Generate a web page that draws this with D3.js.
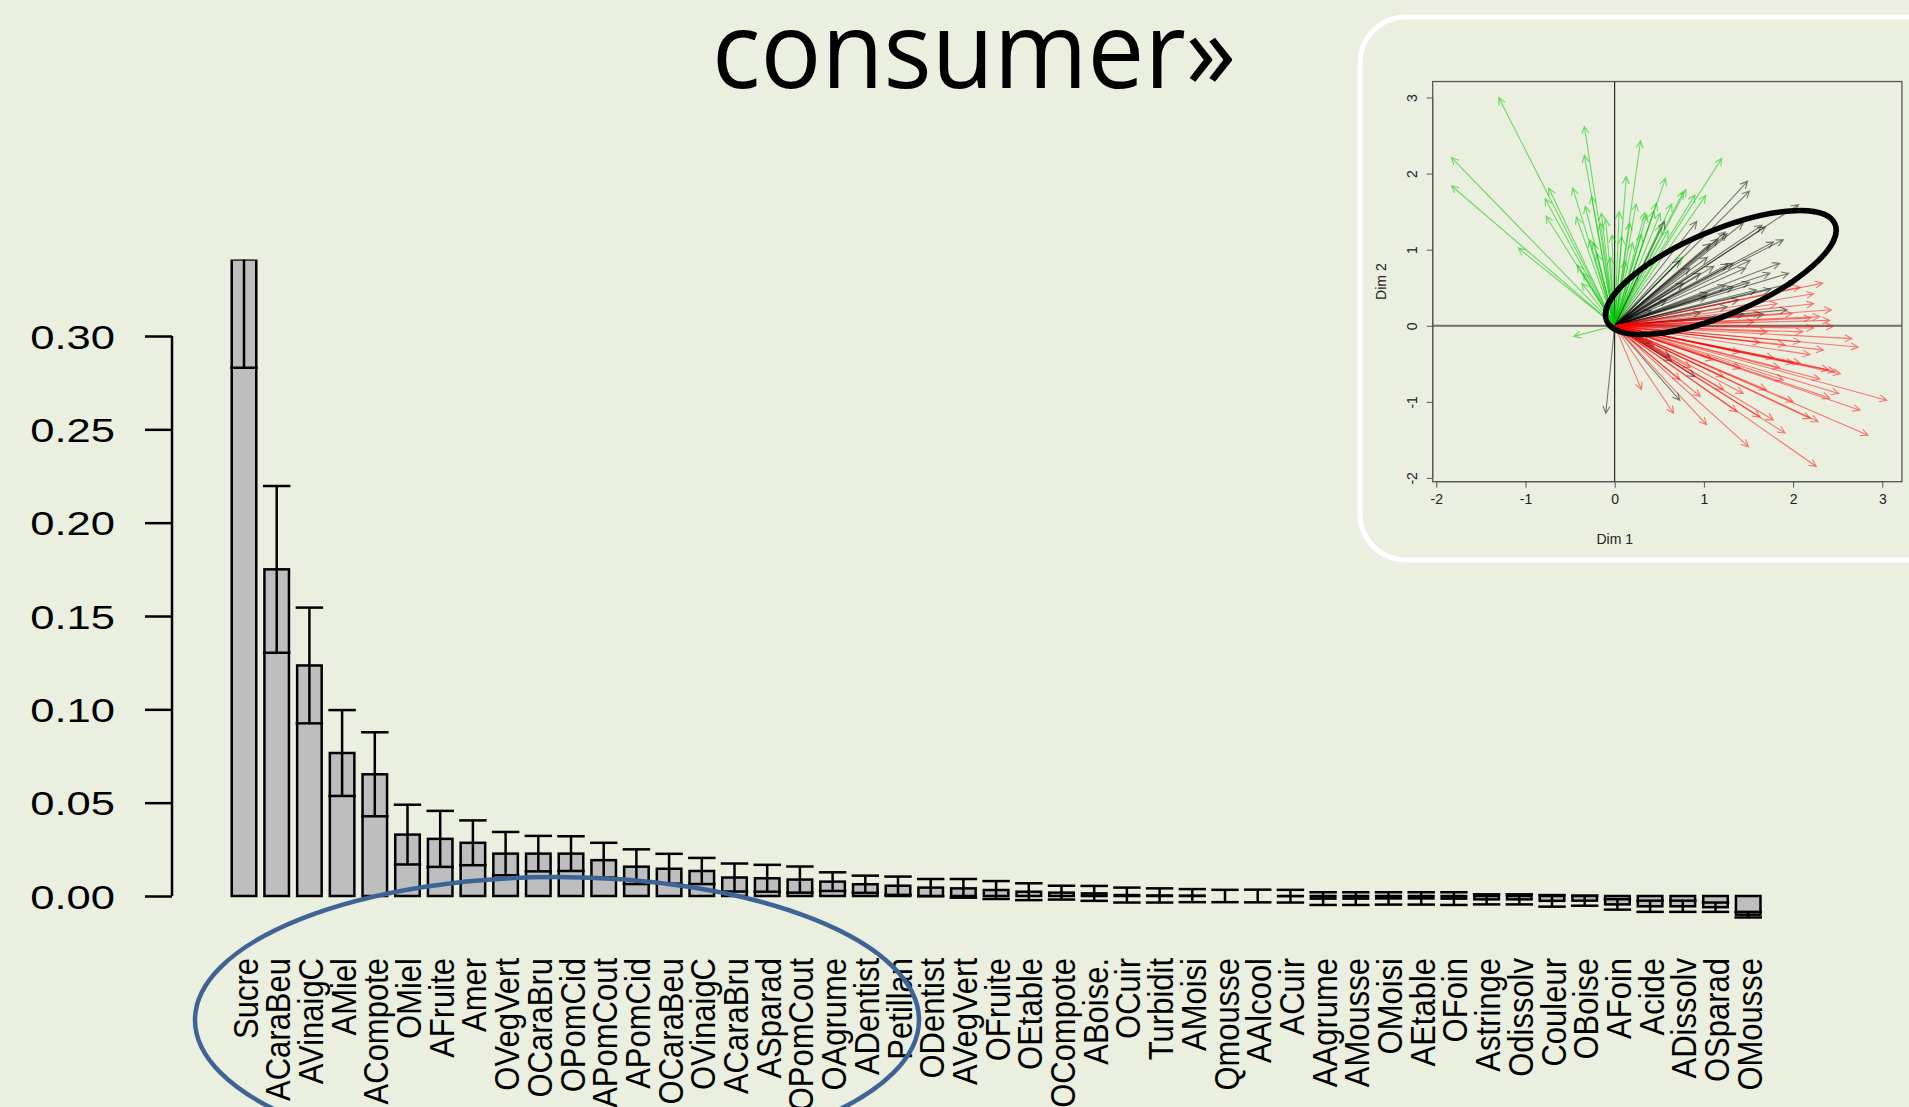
<!DOCTYPE html>
<html>
<head>
<meta charset="utf-8">
<style>
  body { margin: 0; background: #ebefdf; }
  svg { display: block; }
</style>
<script src="https://cdn.jsdelivr.net/npm/d3@7/dist/d3.min.js"></script>
</head>
<body>
<svg id="slide" width="1909" height="1107"></svg>
<script>
// --- bar chart data ---
const attributes = ["Sucre","ACaraBeu","AVinaigC","AMiel","ACompote","OMiel","AFruite","Amer",
  "OVegVert","OCaraBru","OPomCid","APomCout","APomCid","OCaraBeu","OVinaigC","ACaraBru",
  "ASparad","OPomCout","OAgrume","ADentist","Petillan","ODentist","AVegVert","OFruite",
  "OEtable","OCompote","ABoise.","OCuir","Turbidit","AMoisi","Qmousse","AAlcool","ACuir",
  "AAgrume","AMousse","OMoisi","AEtable","OFoin","Astringe","Odissolv","Couleur","OBoise",
  "AFoin","Acide","ADissolv","OSparad","OMousse"];
const means = [0.341,0.175,0.1235,0.0766,0.0652,0.0329,0.0306,0.0285,
  0.0227,0.0227,0.0227,0.0192,0.0157,0.0146,0.0134,0.0099,
  0.0095,0.0088,0.0077,0.0063,0.0055,0.0045,0.0041,0.0032,
  0.0023,0.0018,0.0014,0.0005,0.0003,0.0002,0.0,0.0,-0.0001,
  -0.0014,-0.0014,-0.0013,-0.0013,-0.0014,-0.0018,-0.0018,-0.0026,-0.0025,
  -0.0045,-0.0055,-0.0055,-0.006,-0.010];
const errs = [0.058,0.0447,0.031,0.023,0.0225,0.016,0.015,0.012,
  0.0116,0.0095,0.0093,0.0093,0.0093,0.008,0.007,0.0075,
  0.0072,0.007,0.005,0.0046,0.0049,0.0046,0.005,0.0048,
  0.0045,0.0037,0.004,0.004,0.0038,0.0035,0.0033,0.0034,0.0034,
  0.0034,0.0034,0.0033,0.0033,0.0034,0.0027,0.0027,0.0031,0.0027,
  0.0028,0.003,0.003,0.0025,0.0015];
const yTicks = [0, 0.05, 0.10, 0.15, 0.20, 0.25, 0.30];
const yPlotTop = 0.341; // top of the R plot region (first bar is cut there)

// --- inset (PCA arrows), tips in Dim1/Dim2 units, all start at the origin ---
const greenTips = [[-1.30,3.00],[-1.83,2.21],[-1.83,1.84],[-1.08,1.02],[-0.34,2.62],[-0.34,2.24],
  [0.29,2.43],[1.20,2.20],[0.13,1.96],[0.57,1.94],[-0.74,1.81],[-0.78,1.67],[-0.47,1.81],
  [-0.77,1.44],[-0.26,1.70],[-0.33,1.57],[-0.43,1.43],[-0.15,1.48],[-0.16,1.35],[0.24,1.60],
  [0.34,1.49],[0.17,1.35],[0.08,1.17],[-0.03,1.19],[0.47,1.61],[0.51,1.48],[0.77,1.76],
  [0.90,1.72],[1.02,1.71],[0.80,1.79],[-0.28,1.13],[-0.35,0.69],[-0.37,0.56],[-0.20,0.95],
  [-0.46,-0.14],[0.64,1.60],[0.44,1.51],[0.52,1.32],[0.20,1.09],[0.12,0.85],[0.76,0.90],
  [-0.24,1.09],[-0.10,1.40],[0.05,1.50],[0.36,1.46],[0.60,1.25],[0.30,1.20],[-0.05,0.90],
  [0.25,0.70],[-0.42,0.80]];
const blackTips = [[1.49,1.90],[1.51,1.77],[2.06,1.59],[0.56,1.37],[0.92,1.37],[1.89,1.13],
  [1.65,1.32],[1.44,1.35],[1.78,1.10],[1.26,1.21],[1.07,1.08],[1.85,0.82],[1.95,0.69],
  [1.74,0.69],[1.52,0.86],[1.33,0.82],[1.11,0.78],[0.96,0.69],[0.73,0.86],[0.77,0.56],
  [1.33,0.51],[1.59,0.47],[1.03,0.38],[1.26,0.25],[0.58,0.34],[0.41,0.20],[-0.10,-1.15],
  [0.73,-0.98],[0.90,-0.67],[0.62,-0.41],[0.40,-0.23],[1.93,0.21],[1.45,0.15],[1.16,1.14],
  [1.24,1.23],[1.69,1.30],[1.47,0.76],[1.27,0.81],[1.04,0.90],[0.84,0.76],[1.51,0.57],
  [1.24,0.53],[1.75,0.48],[2.03,0.57],[1.04,0.43],[1.39,0.34],[1.67,0.15],[0.96,0.17],
  [0.44,-0.27],[0.64,-0.46]];
const redTips = [[2.33,0.56],[2.23,0.29],[2.43,0.21],[2.41,0.07],[2.45,-0.01],[2.30,0.12],
  [2.23,-0.03],[2.11,-0.08],[2.66,-0.17],[2.73,-0.28],[2.34,-0.32],[2.19,-0.38],[2.08,-0.49],
  [2.53,-0.63],[2.47,-0.60],[2.40,-0.58],[3.05,-0.98],[2.75,-1.11],[2.51,-0.89],[2.41,-0.95],
  [2.84,-1.44],[2.28,-1.26],[2.19,-1.22],[1.91,-1.41],[1.78,-1.24],[1.63,-1.20],[1.50,-1.59],
  [2.26,-1.85],[1.37,-1.13],[1.03,-1.30],[0.66,-1.15],[0.30,-0.84],[0.96,-0.93],[1.22,-0.84],
  [1.44,-0.89],[1.70,-0.84],[1.89,-0.71],[2.00,-0.49],[0.73,-0.71],[1.22,-0.67],[1.41,-0.56],
  [1.78,-0.42],[1.91,-0.25],[1.63,-0.22],[2.08,-0.21],[1.71,-0.08],[1.56,0.05],[1.99,0.16],
  [1.82,0.29],[1.63,0.16],[2.23,0.42],[2.08,0.51],[1.20,0.10],[1.40,-0.35],[2.20,0.10],
  [1.85,-0.55],[2.30,-0.70],[1.10,-0.45],[0.85,-0.55],[2.00,-1.00]];
const insetTicks = [-2, -1, 0, 1, 2, 3];
const insetDomainX = [-2.04, 3.22];
const insetDomainY = [-2.05, 3.21];
const highlight = { cx: 1.19, cy: 0.70 }; // centre of the black ellipse, data units

const svg = d3.select("#slide");
const font = "'Liberation Sans', Arial, Helvetica, sans-serif";

// title fragment
svg.append("text")
  .attr("x", 712).attr("y", 88)
  .attr("font-family", "'Open Sans', 'Noto Sans', sans-serif")
  .attr("font-size", 106)
  .attr("textLength", 524).attr("lengthAdjust", "spacingAndGlyphs")
  .attr("fill", "#000")
  .text("consumer\u00bb");

// ===== bar chart =====
function drawBars() {
  let y = d3.scaleLinear().domain([0, 0.30]).range([896, 336]);
  let x = d3.scaleBand().domain(attributes)
    .range([227.65, 1764.55]).paddingInner(0.25).paddingOuter(0.125);

  svg.append("clipPath").attr("id", "plotClip")
    .append("rect").attr("x", 0).attr("width", 1909)
    .attr("y", y(yPlotTop)).attr("height", 1107 - y(yPlotTop));

  let rows = attributes.map((a, i) => ({ name: a, m: means[i], e: errs[i] }));
  let body = svg.append("g").attr("clip-path", "url(#plotClip)");

  body.selectAll(".bar").data(rows).enter().append("rect")
    .attr("class", "bar")
    .attr("x", d => x(d.name))
    .attr("width", x.bandwidth())
    .attr("y", d => Math.min(y(d.m), y(0)))
    .attr("height", d => Math.abs(y(0) - y(d.m)))
    .attr("fill", "#bebebe").attr("stroke", "#000").attr("stroke-width", 2.5);

  let capW = x.bandwidth() * 1.12;
  let eb = body.selectAll(".err").data(rows).enter().append("g").attr("class", "err")
    .attr("stroke", "#000").attr("stroke-width", 2.5);
  eb.append("line")
    .attr("x1", d => x(d.name) + x.bandwidth() / 2).attr("x2", d => x(d.name) + x.bandwidth() / 2)
    .attr("y1", d => y(d.m - d.e)).attr("y2", d => y(d.m + d.e));
  [-1, 1].forEach(s => {
    eb.append("line")
      .attr("x1", d => x(d.name) + x.bandwidth() / 2 - capW / 2)
      .attr("x2", d => x(d.name) + x.bandwidth() / 2 + capW / 2)
      .attr("y1", d => y(d.m + s * d.e)).attr("y2", d => y(d.m + s * d.e));
  });

  // y axis, R style: line only over the tick range
  let axisY = d3.axisLeft(y).tickValues(yTicks).tickFormat(d3.format(".2f"))
    .tickSize(27).tickSizeOuter(0);
  let gy = svg.append("g").attr("transform", "translate(172,0)").call(axisY);
  gy.select(".domain").remove();
  gy.selectAll(".tick line").attr("stroke", "#000").attr("stroke-width", 2.5);
  gy.selectAll(".tick text")
    .attr("x", 0).attr("dy", "0.36em")
    .attr("transform", "translate(-57,0) scale(1.28,1)")
    .attr("font-family", font).attr("font-size", 34).attr("fill", "#000");
  gy.append("line").attr("x1", 0).attr("x2", 0)
    .attr("y1", y(yTicks[0])).attr("y2", y(yTicks[yTicks.length - 1]))
    .attr("stroke", "#000").attr("stroke-width", 2.5);

  // rotated category labels (glyphs slightly widened like the stretched original)
  svg.append("g").selectAll("text").data(attributes).enter().append("text")
    .attr("transform", d => `translate(${x(d) + x.bandwidth() / 2},958) rotate(-90) scale(1,1.15)`)
    .attr("text-anchor", "end").attr("dy", "0.38em")
    .attr("font-family", font).attr("font-size", 31).attr("fill", "#000")
    .text(d => d);

  // hand-drawn blue ellipse around the first group of labels
  svg.append("ellipse")
    .attr("cx", 557).attr("cy", 1020).attr("rx", 362).attr("ry", 143)
    .attr("fill", "none").attr("stroke", "#3e6496").attr("stroke-width", 4.5);
}

// ===== inset =====
function drawInset() {
  svg.append("rect")
    .attr("x", 1360).attr("y", 17).attr("width", 600).attr("height", 543)
    .attr("rx", 46).attr("fill", "none").attr("stroke", "#fff").attr("stroke-width", 5);

  let xs = d3.scaleLinear().domain([-2, 3]).range([1436.3, 1882.3]);
  let ys = d3.scaleLinear().domain([-2, 3]).range([477.9, 97.5]);
  let g = svg.append("g");
  let intFmt = d => String(d);

  // reference lines
  g.append("line").attr("x1", xs(insetDomainX[0])).attr("x2", xs(insetDomainX[1]))
    .attr("y1", ys(0)).attr("y2", ys(0)).attr("stroke", "#707070").attr("stroke-width", 2);
  g.append("line").attr("x1", xs(0)).attr("x2", xs(0))
    .attr("y1", ys(insetDomainY[0])).attr("y2", ys(insetDomainY[1]))
    .attr("stroke", "#000").attr("stroke-width", 1);

  function arrowPath(t) {
    let x0 = xs(0), y0 = ys(0), x1 = xs(t[0]), y1 = ys(t[1]);
    let a = Math.atan2(y1 - y0, x1 - x0), L = 8, w = 0.45;
    let p1 = [x1 - L * Math.cos(a - w), y1 - L * Math.sin(a - w)];
    let p2 = [x1 - L * Math.cos(a + w), y1 - L * Math.sin(a + w)];
    return `M${x0},${y0}L${x1},${y1}M${p1[0]},${p1[1]}L${x1},${y1}L${p2[0]},${p2[1]}`;
  }
  [[greenTips, "rgba(0,200,0,0.55)"], [blackTips, "rgba(0,0,0,0.5)"], [redTips, "rgba(255,0,0,0.5)"]]
    .forEach(([tips, col]) => {
      g.append("g").selectAll("path").data(tips).enter().append("path")
        .attr("d", arrowPath).attr("fill", "none")
        .attr("stroke", col).attr("stroke-width", 1.1);
    });

  // highlight ellipse
  g.append("ellipse")
    .attr("transform", `translate(${xs(highlight.cx)},${ys(highlight.cy)}) rotate(-23)`)
    .attr("rx", 124).attr("ry", 42)
    .attr("fill", "none").attr("stroke", "#000").attr("stroke-width", 5.5);

  // box
  g.append("rect")
    .attr("x", xs(insetDomainX[0])).attr("y", ys(insetDomainY[1]))
    .attr("width", xs(insetDomainX[1]) - xs(insetDomainX[0]))
    .attr("height", ys(insetDomainY[0]) - ys(insetDomainY[1]))
    .attr("fill", "none").attr("stroke", "#555").attr("stroke-width", 1.3);

  // axes
  let bottom = ys(insetDomainY[0]), left = xs(insetDomainX[0]);
  let ax = d3.axisBottom(xs).tickValues(insetTicks).tickFormat(intFmt).tickSize(6).tickPadding(6);
  let gx = g.append("g").attr("transform", `translate(0,${bottom})`).call(ax);
  gx.select(".domain").attr("d", `M${xs(-2)},0H${xs(3)}`).attr("stroke", "#555");
  gx.selectAll("text").attr("font-family", font).attr("font-size", 14).attr("fill", "#222");
  gx.selectAll(".tick line").attr("stroke", "#555");

  let ay = d3.axisLeft(ys).tickValues(insetTicks).tickFormat(intFmt).tickSize(6);
  let gyy = g.append("g").attr("transform", `translate(${left},0)`).call(ay);
  gyy.select(".domain").attr("d", `M0,${ys(-2)}V${ys(3)}`).attr("stroke", "#555");
  gyy.selectAll(".tick line").attr("stroke", "#555");
  gyy.selectAll("text")
    .attr("x", 0).attr("dy", 0)
    .attr("transform", "translate(-16,0) rotate(-90)")
    .attr("text-anchor", "middle")
    .attr("font-family", font).attr("font-size", 14).attr("fill", "#222");

  g.append("text").attr("x", xs(0)).attr("y", 544).attr("text-anchor", "middle")
    .attr("font-family", font).attr("font-size", 14).attr("fill", "#222").text("Dim 1");
  g.append("text").attr("transform", `translate(1386,${ys(0.58)}) rotate(-90)`)
    .attr("text-anchor", "middle")
    .attr("font-family", font).attr("font-size", 14).attr("fill", "#222").text("Dim 2");
}

drawBars();
drawInset();
</script>
</body>
</html>
